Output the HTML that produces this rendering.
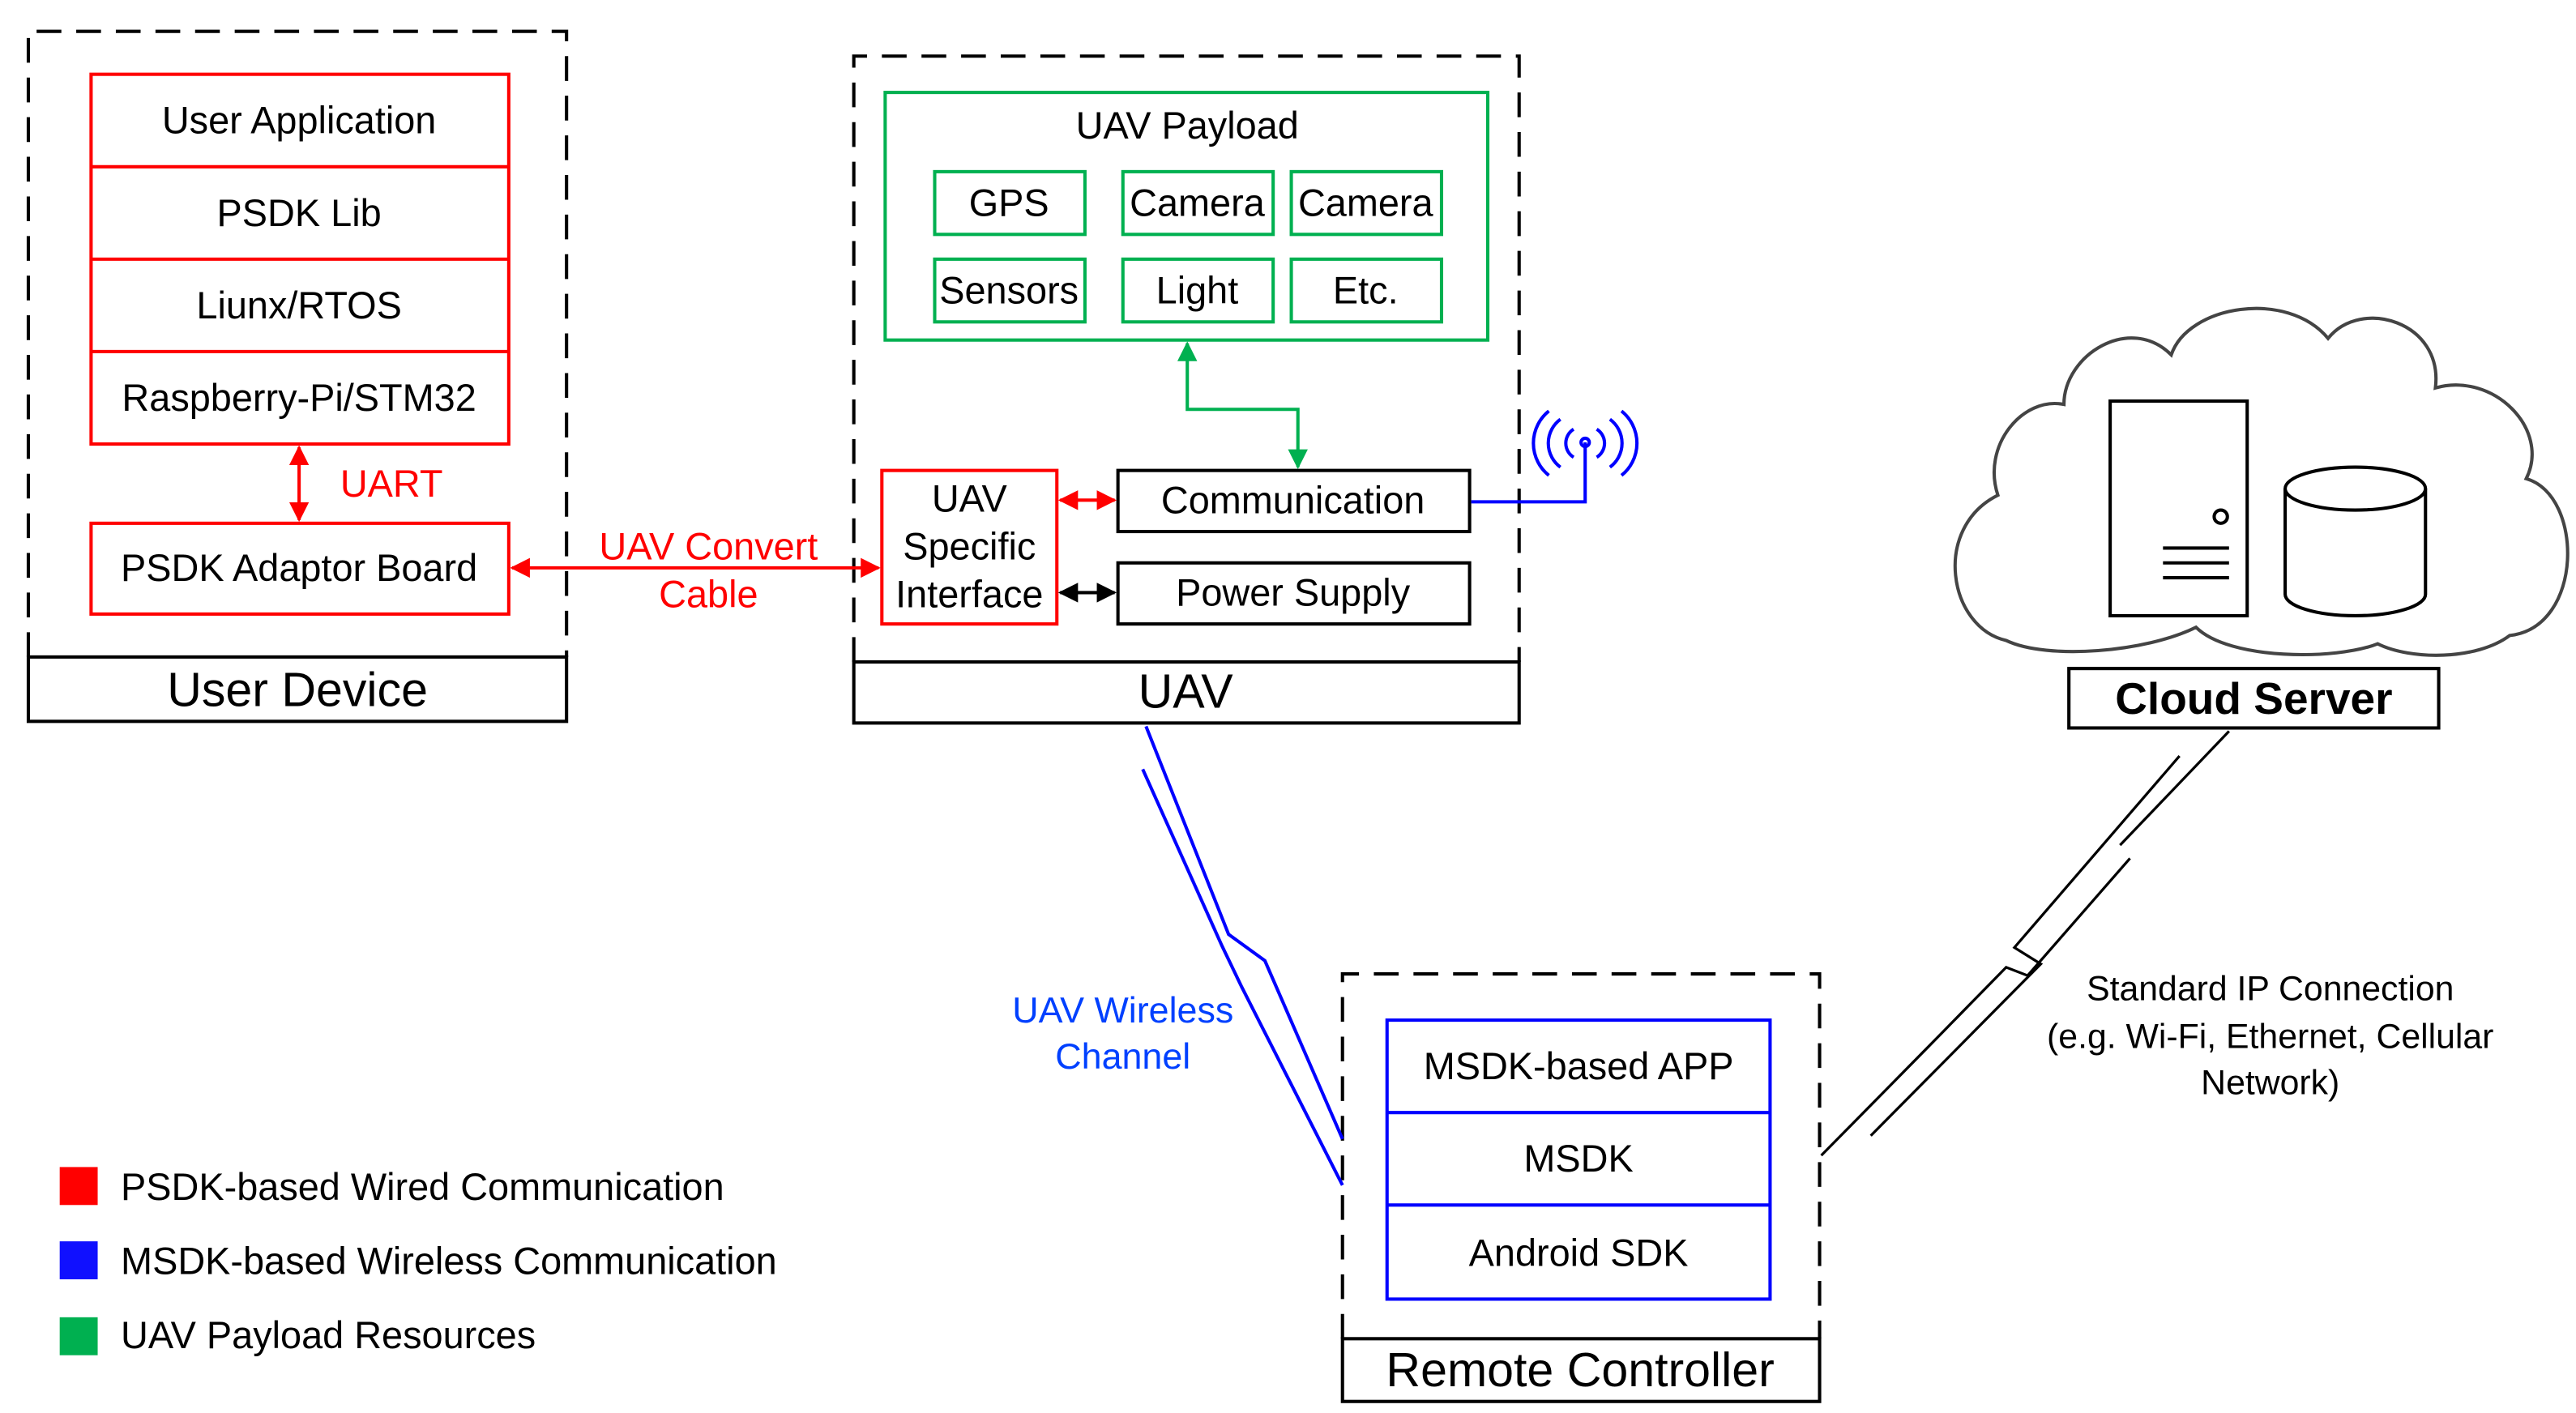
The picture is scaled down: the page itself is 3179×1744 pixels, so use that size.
<!DOCTYPE html>
<html><head><meta charset="utf-8"><style>
html,body{margin:0;padding:0;background:#fff;}
svg{display:block;}
text{font-family:"Liberation Sans","Noto Sans CJK SC",sans-serif;text-anchor:middle;dominant-baseline:central;}
text.l{text-anchor:start;}
</style></head><body>
<svg width="3179" height="1744" viewBox="0 0 1560 856" xmlns="http://www.w3.org/2000/svg">
<defs>
<marker id="ar" viewBox="0 0 10 10" refX="9" refY="5" markerWidth="6" markerHeight="6" orient="auto-start-reverse"><path d="M0,0L10,5L0,10z" fill="#f00"/></marker>
<marker id="ag" viewBox="0 0 10 10" refX="9" refY="5" markerWidth="6" markerHeight="6" orient="auto-start-reverse"><path d="M0,0L10,5L0,10z" fill="#00b050"/></marker>
<marker id="ak" viewBox="0 0 10 10" refX="9" refY="5" markerWidth="6" markerHeight="6" orient="auto-start-reverse"><path d="M0,0L10,5L0,10z" fill="#000"/></marker>
</defs>
<g fill="none" stroke="#000" stroke-width="2" stroke-dasharray="15,9">
<path d="M17,398V19H343V398"/>
<path d="M517,401V34H920V401"/>
<path d="M813,811V590H1102V811"/>
</g>
<g fill="#fff" stroke="#000" stroke-width="2">
<rect x="17" y="398" width="326" height="39"/>
<rect x="517" y="401" width="403" height="37"/>
<rect x="813" y="811" width="289" height="38"/>
<rect x="1253" y="405" width="224" height="36"/>
<rect x="677" y="285" width="213" height="37"/>
<rect x="677" y="341" width="213" height="37"/>
</g>
<g font-size="29" fill="#000">
<text x="180" y="418">User Device</text>
<text x="718" y="419">UAV</text>
<text x="957" y="830">Remote Controller</text>
<text x="1365" y="423" font-weight="bold" font-size="27">Cloud Server</text>
</g>
<g fill="none" stroke="#f00" stroke-width="2">
<rect x="55" y="45" width="253" height="224"/>
<path d="M55,101H308M55,157H308M55,213H308"/>
<rect x="55" y="317" width="253" height="55"/>
<rect x="534" y="285" width="106" height="93"/>
<path d="M181,271V315" marker-start="url(#ar)" marker-end="url(#ar)"/>
<path d="M310,344H532" marker-start="url(#ar)" marker-end="url(#ar)"/>
<path d="M642,303H675" marker-start="url(#ar)" marker-end="url(#ar)"/>
</g>
<path d="M642,359H675" stroke="#000" stroke-width="2" marker-start="url(#ak)" marker-end="url(#ak)"/>
<g font-size="23" fill="#000">
<text x="181" y="73">User Application</text>
<text x="181" y="129">PSDK Lib</text>
<text x="181" y="185">Liunx/RTOS</text>
<text x="181" y="241">Raspberry-Pi/STM32</text>
<text x="181" y="344">PSDK Adaptor Board</text>
<text x="587" y="302">UAV</text>
<text x="587" y="331">Specific</text>
<text x="587" y="360">Interface</text>
<text x="783" y="303">Communication</text>
<text x="783" y="359">Power Supply</text>
<text x="719" y="76">UAV Payload</text>
<text x="611" y="123">GPS</text>
<text x="725" y="123">Camera</text>
<text x="827" y="123">Camera</text>
<text x="611" y="176">Sensors</text>
<text x="725" y="176">Light</text>
<text x="827" y="176">Etc.</text>
<text x="956" y="646">MSDK-based APP</text>
<text x="956" y="702">MSDK</text>
<text x="956" y="759">Android SDK</text>
</g>
<g font-size="23" fill="#f00">
<text x="237" y="293">UART</text>
<text x="429" y="331">UAV Convert</text>
<text x="429" y="360">Cable</text>
</g>
<g fill="none" stroke="#00b050" stroke-width="2">
<rect x="536" y="56" width="365" height="150"/>
<rect x="566" y="104" width="91" height="38"/>
<rect x="680" y="104" width="91" height="38"/>
<rect x="782" y="104" width="91" height="38"/>
<rect x="566" y="157" width="91" height="38"/>
<rect x="680" y="157" width="91" height="38"/>
<rect x="782" y="157" width="91" height="38"/>
<path d="M719,208V248H786V283" marker-start="url(#ag)" marker-end="url(#ag)"/>
</g>
<g fill="none" stroke="#00f" stroke-width="2">
<rect x="840" y="618" width="232" height="169"/>
<path d="M840,674H1072M840,730H1072"/>
<path d="M891,304H960V268"/>
<circle cx="960" cy="268" r="2.5"/>
<path d="M953,260a10,10 0 0,0 0,17M967,260a10,10 0 0,1 0,17"/>
<path d="M945,254a18,18 0 0,0 0,29M975,254a18,18 0 0,1 0,29"/>
<path d="M938,249a25,25 0 0,0 0,39M982,249a25,25 0 0,1 0,39"/>
<path d="M694,440L744,566L766,582L813,690"/>
<path d="M692,466L740,573L752,598L813,718"/>
</g>
<g font-size="22" fill="#0040ff">
<text x="680" y="612">UAV Wireless</text>
<text x="680" y="640">Channel</text>
</g>
<g fill="none" stroke="#000" stroke-width="1.6">
<path d="M1350,443L1284,512"/>
<path d="M1320,458L1220,574L1236,584L1133,688"/>
<path d="M1103,700L1168,634L1215,586L1228,591L1290,520"/>
</g>
<g font-size="21" fill="#000">
<text x="1375" y="599">Standard IP Connection</text>
<text x="1375" y="628">(e.g. Wi-Fi, Ethernet, Cellular</text>
<text x="1375" y="656">Network)</text>
</g>
<path d="M1215,388C1180,380 1170,320 1210,300C1200,270 1225,240 1250,245C1250,215 1290,190 1315,215C1325,185 1385,175 1410,205C1430,180 1480,195 1475,235C1510,225 1545,260 1530,290C1565,300 1565,380 1520,385C1500,400 1460,400 1440,390C1415,400 1350,400 1330,380C1300,395 1240,400 1215,388Z" fill="none" stroke="#444" stroke-width="2"/>
<g fill="#fff" stroke="#000" stroke-width="2">
<rect x="1278" y="243" width="83" height="130"/>
<path d="M1384,296V360A42.5,13 0 0,0 1469,360V296"/>
<ellipse cx="1426.5" cy="296" rx="42.5" ry="13"/>
<circle cx="1345" cy="313" r="4"/>
<path d="M1310,332H1350M1310,341H1350M1310,350H1350"/>
</g>
<rect x="36" y="707" width="23" height="23" fill="#f00"/>
<rect x="36" y="752" width="23" height="23" fill="#1010ff"/>
<rect x="36" y="798" width="23" height="23" fill="#00b050"/>
<g font-size="23" fill="#000">
<text class="l" x="73" y="719">PSDK-based Wired Communication</text>
<text class="l" x="73" y="764">MSDK-based Wireless Communication</text>
<text class="l" x="73" y="809">UAV Payload Resources</text>
</g>
</svg>
</body></html>
